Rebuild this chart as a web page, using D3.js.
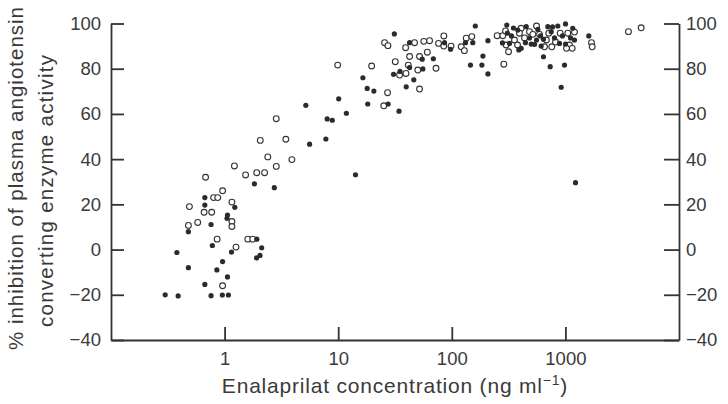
<!DOCTYPE html>
<html>
<head>
<meta charset="utf-8">
<script src="https://cdn.jsdelivr.net/npm/d3@7"></script>
<style>
  body { margin: 0; background: #fff; }
  svg { display: block; font-family: 'Liberation Sans', Arial, Helvetica, sans-serif; }
</style>
</head>
<body>
<div id="container"></div>
<script>
// open circles: concentration (ng/ml) and % inhibition
const openConc = [0.68, 1.22, 1.53, 1.92, 2.25, 2.40, 0.96, 0.80, 0.87, 0.49, 0.66, 0.77, 1.16, 1.16, 1.16,
  0.58, 0.48, 0.86, 1.26, 1.60, 1.77, 0.96, 9.9, 19.7, 27.2, 25.2, 2.85, 2.06, 3.46, 3.91, 2.85,
  52, 31.8, 34.7, 39.5, 41.4, 42.5, 52, 50.2, 60.9, 72.6, 25.6, 27.4, 39.2, 47, 56.7, 63.7, 76.4,
  85.1, 85, 98.5, 121, 134, 129, 150, 287, 251, 281, 297, 301, 316, 408, 394, 483, 517, 592, 655,
  714, 759, 900, 1050, 1086, 1148, 1023, 1697, 1721, 3590, 4645, 356, 680, 818, 557, 437, 1202, 379]
const openPct = [32, 37, 33, 34, 34, 41, 26, 23, 23, 19, 16.5, 16.5, 21, 12.4, 10.2,
  12, 10.7, 4.6, 1.1, 4.6, 4.6, -16, 81.6, 81.2, 69.4, 63.6, 57.9, 48.3, 48.8, 39.8, 36.8,
  71, 83.1, 77.2, 77.9, 81.6, 85.4, 85.4, 79.4, 87.3, 80.2, 91.5, 90.2, 89.3, 91.5, 92.1, 92.4, 91.2,
  94.5, 90, 90, 89.7, 93.5, 88, 94.2, 82, 94.6, 94.6, 96.7, 90.5, 87.5, 97.9, 95.7, 96.4, 95.2, 95.2, 89.7,
  95.7, 89.7, 95.7, 95.7, 90.5, 89, 89, 91.5, 89.7, 96.4, 98.1, 92.7, 92.7, 91.8, 98.9, 93.6, 96.2, 90.5]

// filled dots
const filledConc = [1.83, 0.67, 0.67, 1.23, 1.06, 1.05, 0.76, 0.48, 0.78, 2.12, 0.38, 1.15, 2.05, 1.91,
  0.96, 0.48, 0.855, 1.06, 0.67, 0.30, 0.39, 0.76, 0.955, 1.08, 1.92, 16.5, 18, 20.6, 10.1, 18.2, 5.19,
  8.0, 8.87, 11.8, 7.79, 5.6, 2.74, 14.2, 27.5, 34.3, 31.2, 39.7, 46.3, 30.7, 35, 42.5, 54.9, 55.6,
  68.8, 42.5, 86.3, 97.5, 132, 153, 161, 146, 208, 188, 184, 208, 305, 309, 322, 381, 389, 408, 452,
  445, 500, 535, 572, 641, 612, 700, 750, 641, 735, 857, 887, 1002, 982, 918, 1161, 1202, 1607, 1227,
  335, 483, 557, 802, 942, 1109, 349, 770, 604, 1002, 279]
const filledPct = [29.1, 23, 19.7, 18.7, 15.3, 13.8, 11.1, 7.9, 1.8, 0.8, -1.3, -1.1, -2.6, -3.7,
  -5.3, -8, -9, -12.1, -15.4, -20, -20.5, -20.4, -20.1, -20.1, 4.6, 76, 71.3, 70.1, 66.7, 64.4, 63.8,
  57.8, 57.2, 60.3, 48.9, 46.6, 27.4, 33.1, 64.4, 61.2, 95.4, 72, 75.1, 77.5, 78.8, 80.5, 84.2, 79.9,
  84.4, 91.5, 91.5, 88.6, 91.5, 91.5, 98.9, 81.6, 92.4, 85.6, 81.6, 77.7, 99.3, 95.7, 91.2, 97.1, 88.3, 89, 98.6,
  91.5, 90.9, 90.8, 97.4, 93, 90, 98.6, 96.4, 85.3, 80.9, 98.9, 91.2, 99.8, 81.6, 71.8, 97.9, 92.7, 94.5, 29.6,
  94.5, 93.6, 92.7, 93.6, 94.5, 93.6, 98, 98.5, 94.5, 90.9, 91.4]

const xTicks = [1, 10, 100, 1000]
const yTicks = [-40, -20, 0, 20, 40, 60, 80, 100]

const width = 728;
const height = 404;
const ink = '#333';
const textInk = '#3a3a3a';

const svg = d3.select('#container').append('svg')
  .attr('width', width)
  .attr('height', height);

const x = d3.scaleLog().domain([0.1, 10000]).range([111, 679]);
const y = d3.scaleLinear().domain([-40, 100]).range([340, 23.5]);

const fmt = d => d < 0 ? '\u2212' + Math.abs(d) : String(d);

const styleAxis = g => {
  g.attr('font-family', null).attr('font-size', null);
  g.selectAll('path, line').attr('stroke', ink).attr('stroke-width', 1.8);
  g.selectAll('text').attr('fill', textInk).style('font-size', '18.5px');
};

svg.append('g')
  .attr('transform', `translate(${x(0.1)},0)`)
  .call(d3.axisLeft(y).tickValues(yTicks).tickFormat(fmt).tickSizeInner(-13).tickSizeOuter(0).tickPadding(10))
  .call(styleAxis);

svg.append('g')
  .attr('transform', `translate(${x(10000)},0)`)
  .call(d3.axisRight(y).tickValues(yTicks).tickFormat(fmt).tickSizeInner(-15).tickSizeOuter(0).tickPadding(7))
  .call(styleAxis);

svg.append('g')
  .attr('transform', `translate(0,${y(-40)})`)
  .call(d3.axisBottom(x).tickValues(xTicks).tickFormat(d => String(d)).tickSizeInner(-13).tickSizeOuter(0).tickPadding(12))
  .call(styleAxis);

svg.append('g')
  .selectAll('circle')
  .data(d3.zip(openConc, openPct))
  .join('circle')
  .attr('cx', d => x(d[0]))
  .attr('cy', d => y(d[1]))
  .attr('r', 2.9)
  .attr('fill', '#fff')
  .attr('stroke', ink)
  .attr('stroke-width', 1.1);

svg.append('g')
  .selectAll('circle')
  .data(d3.zip(filledConc, filledPct))
  .join('circle')
  .attr('cx', d => x(d[0]))
  .attr('cy', d => y(d[1]))
  .attr('r', 2.6)
  .attr('fill', '#2b2b2b');

// axis titles
const xTitle = svg.append('text')
  .attr('x', 395)
  .attr('y', 393)
  .attr('text-anchor', 'middle')
  .attr('fill', textInk)
  .style('font-size', '21px')
  .style('letter-spacing', '0.8px');
xTitle.append('tspan').text('Enalaprilat concentration (ng ml');
xTitle.append('tspan').attr('dy', -8).style('font-size', '14px').text('\u22121');
xTitle.append('tspan').attr('dy', 8).text(')');

svg.append('text')
  .attr('transform', 'translate(23,350) rotate(-90)')
  .attr('fill', textInk)
  .attr('textLength', 343)
  .style('font-size', '20.5px')
  .text('% inhibition of plasma angiotensin');

svg.append('text')
  .attr('transform', 'translate(53,327) rotate(-90)')
  .attr('fill', textInk)
  .attr('textLength', 272)
  .style('font-size', '20.5px')
  .text('converting enzyme activity');
</script>
</body>
</html>
